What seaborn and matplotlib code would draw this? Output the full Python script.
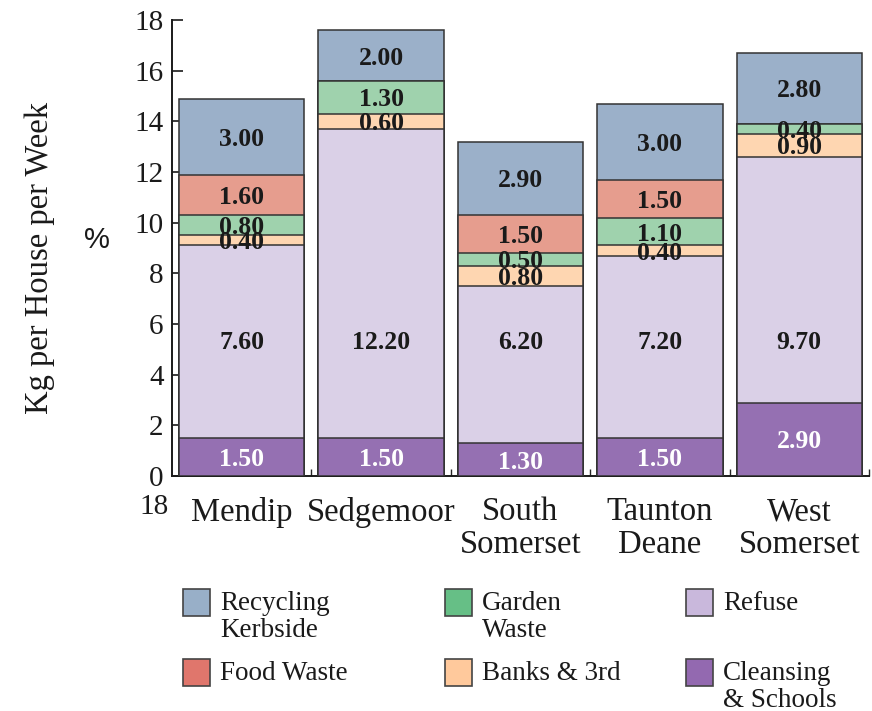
import matplotlib
matplotlib.use("Agg")
import matplotlib.pyplot as plt
import matplotlib.patches as mpatches
import numpy as np
import pandas as pd
import seaborn as sns

districts = ["Mendip", "Sedgemoor", "South\nSomerset", "Taunton\nDeane", "West\nSomerset"]

# stack order, bottom to top
cleansing = [1.50, 1.50, 1.30, 1.50, 2.90]
refuse = [7.60, 12.20, 6.20, 7.20, 9.70]
banks = [0.40, 0.60, 0.80, 0.40, 0.90]
garden = [0.80, 1.30, 0.50, 1.10, 0.40]
food = [1.60, 0.00, 1.50, 1.50, 0.00]
recycling = [3.00, 2.00, 2.90, 3.00, 2.80]

layer_names = ["Cleansing\n& Schools", "Refuse", "Banks & 3rd", "Garden\nWaste",
               "Food Waste", "Recycling\nKerbside"]
layer_values = [cleansing, refuse, banks, garden, food, recycling]
bar_colors = ["#9570b2", "#dad0e7", "#fed6b1", "#9fd2ad", "#e69d8e", "#9bb0c9"]
key_colors = ["#9369b0", "#c9b8dc", "#ffc99c", "#66bf86", "#e0766c", "#98afc8"]

# the refuse labels share one common height across the bars
refuse_label_y = 5.35

sns.set_style("ticks")
plt.rcParams["font.family"] = ["Liberation Serif", "DejaVu Serif"]

fig = plt.figure(figsize=(8.72, 7.11), dpi=100)
ax = fig.add_axes([0.1972, 0.3305, 0.7993, 0.6413])

vals = np.array(layer_values)
cum = np.cumsum(vals, axis=0)

# draw cumulative bars from the tallest down so each layer sits on the one below
for i in range(len(layer_names) - 1, -1, -1):
    df = pd.DataFrame({"district": districts, "value": cum[i]})
    sns.barplot(data=df, x="district", y="value", color=bar_colors[i],
                saturation=1, width=0.9, edgecolor="#333333", linewidth=1.1,
                ax=ax, zorder=2)

# segment value labels
for i, name in enumerate(layer_names):
    for j in range(len(districts)):
        v = vals[i, j]
        if v <= 0:
            continue
        base = cum[i, j] - v
        y = refuse_label_y if i == 1 else base + v / 2
        txt_color = "white" if i == 0 else "#1a1a1a"
        ax.text(j, y, f"{v:.2f}", ha="center", va="center_baseline",
                fontsize=18.5, fontweight="bold", color=txt_color, zorder=5)

ax.set_ylim(0, 18)
ax.set_xlim(-0.5, 4.5)
ax.set_yticks(np.arange(0, 19, 2))
ax.tick_params(axis="y", direction="in", length=8, width=1.2, labelsize=21,
               pad=6, colors="#1a1a1a")
# category names under bars, tick marks between bars
ax.set_xticks(np.arange(0.5, 5, 1.0))
ax.set_xticklabels([])
ax.set_xticks(np.arange(len(districts)), minor=True)
ax.set_xticklabels(districts, minor=True, linespacing=1.08)
ax.tick_params(axis="x", which="minor", length=0, pad=15, labelsize=23.5,
               labelcolor="#1a1a1a")
ax.tick_params(axis="x", which="major", direction="in", length=5, width=1.0)
ax.set_xlabel("")
ax.set_ylabel("")
for side in ["top", "right"]:
    ax.spines[side].set_visible(False)
for side in ["left", "bottom"]:
    ax.spines[side].set_linewidth(1.4)
    ax.spines[side].set_color("#1a1a1a")
    ax.spines[side].set_zorder(1)

W, H = 872, 711


def fx(px):
    return px / W


def fy(py):
    return 1 - py / H


fig.text(fx(40), fy(258), "Kg per House per Week", rotation=90, ha="center",
         va="center", fontsize=23.5, color="#1a1a1a")
fig.text(fx(97), fy(240), "%", ha="center", va="center", fontsize=21,
         family=["Liberation Sans", "DejaVu Sans"], color="#1a1a1a")
fig.text(fx(154), fy(507), "18", ha="center", va="center", fontsize=21,
         color="#1a1a1a")

# key: three columns, two rows
key_layout = [
    (5, 183, 589), (3, 445, 589), (1, 686, 589),
    (4, 183, 659), (2, 445, 659), (0, 686, 659),
]
for idx, px, py in key_layout:
    rect = mpatches.Rectangle((fx(px), fy(py + 27)), 27 / W, 27 / H,
                              transform=fig.transFigure, facecolor=key_colors[idx],
                              edgecolor="#444444", linewidth=1.2)
    fig.add_artist(rect)
    fig.text(fx(px + 37), fy(py + 2), layer_names[idx], ha="left", va="top",
             fontsize=19.5, linespacing=1.1, color="#1a1a1a")

fig.savefig("out.png", dpi=100)
